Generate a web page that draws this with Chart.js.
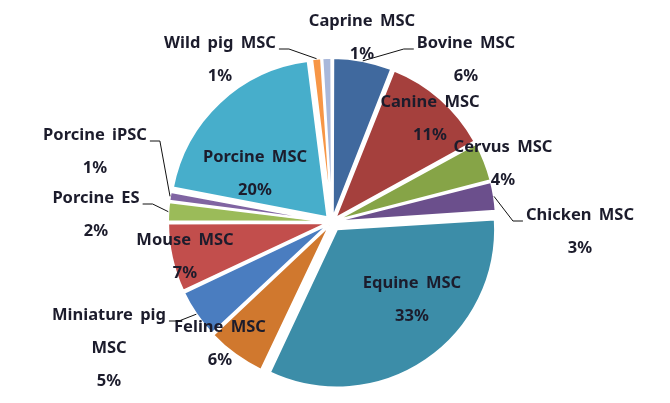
<!DOCTYPE html>
<html>
<head>
<meta charset="utf-8">
<script src="https://cdn.jsdelivr.net/npm/chart.js@4.4.1/dist/chart.umd.min.js"></script>
<style>
  html, body { margin: 0; padding: 0; background: #fff; }
</style>
</head>
<body>
<canvas id="pieChart" width="670" height="403"></canvas>
<script>
// data
var categories = ['Bovine MSC', 'Canine MSC', 'Cervus MSC', 'Chicken MSC', 'Equine MSC', 'Feline MSC',
    'Miniature pig MSC', 'Mouse MSC', 'Porcine ES', 'Porcine iPSC', 'Porcine MSC', 'Wild pig MSC', 'Caprine MSC'];
var shares = [6, 11, 4, 3, 33, 6, 5, 7, 2, 1, 20, 1, 1];

// styles
var colors = ['#40699E', '#A5403D', '#86A447', '#6B4F8C', '#3C8DA8', '#D0782E',
    '#4A7DC0', '#C24E4C', '#9BBB59', '#8064A2', '#47AECB', '#F79646', '#A9B8DA'];
var explodePx = [7, 7, 7, 7, 10, 7, 7, 7, 7, 7, 7, 7, 7];
// label placement relative to pie centre (first text line centre), leader side
var labelPos = [[134, -179, 'left'], [98, -120], [171, -75], [248, -7, 'left'], [80, 61], [-112, 105],
    [-223, 93, 'right'], [-147, 18], [-236, -24, 'right'], [-237, -87, 'right'], [-77, -65],
    [-112, -179, 'right'], [30, -201]];

var total = shares.reduce(function (a, b) { return a + b; }, 0);

function splitName(name) {
    if (name.length <= 14) return [name];
    var i = name.lastIndexOf(' ');
    return [name.slice(0, i), name.slice(i + 1)];
}

var labelPlugin = {
    id: 'pieLabels',
    afterDatasetsDraw: function (chart) {
        var ctx = chart.ctx;
        var arcs = chart.getDatasetMeta(0).data;
        ctx.save();
        ctx.font = 'bold 16.5px "Noto Sans"';
        ctx.fillStyle = '#1c1c2c';
        ctx.textAlign = 'center';
        ctx.textBaseline = 'middle';
        if ('wordSpacing' in ctx) ctx.wordSpacing = '3px';
        arcs.forEach(function (arc, i) {
            var pos = labelPos[i];
            var lx = arc.x + pos[0], ly = arc.y + pos[1];
            var lines = splitName(categories[i]).concat([shares[i] + '%']);
            lines.forEach(function (t, k) {
                ctx.fillText(t, lx, ly + k * 33);
            });
            if (pos[2]) {
                var w = ctx.measureText(lines[0]).width;
                var mid = (arc.startAngle + arc.endAngle) / 2;
                var r = arc.outerRadius + explodePx[i];
                var px = arc.x + Math.cos(mid) * r, py = arc.y + Math.sin(mid) * r;
                var dir = pos[2] === 'left' ? -1 : 1;
                var ax = lx + dir * (w / 2 + 3), ay = ly + 6;
                ctx.beginPath();
                ctx.strokeStyle = '#111';
                ctx.lineWidth = 1;
                ctx.moveTo(ax, ay);
                ctx.lineTo(ax + dir * 10, ay);
                ctx.lineTo(px, py);
                ctx.stroke();
            }
        });
        ctx.restore();
    }
};

var ctx1 = document.getElementById('pieChart').getContext('2d');
var pieChart = new Chart(ctx1, {
    type: 'pie',
    data: {
        labels: categories,
        datasets: [{
            data: shares,
            backgroundColor: colors,
            borderColor: '#ffffff',
            borderWidth: 2,
            // convert wanted pixel shift to chart.js arc offset
            offset: function (c) {
                var circ = shares[c.dataIndex] / total * Math.PI * 2;
                var fix = 1 - Math.sin(Math.min(Math.PI, circ));
                return 4 * explodePx[c.dataIndex] / (1 + fix);
            }
        }]
    },
    options: {
        responsive: false,
        animation: false,
        radius: 157,
        layout: { padding: { top: 41, left: 0, right: 6, bottom: 0 } },
        plugins: {
            legend: { display: false },
            tooltip: { enabled: false }
        }
    },
    plugins: [labelPlugin]
});
</script>
</body>
</html>
